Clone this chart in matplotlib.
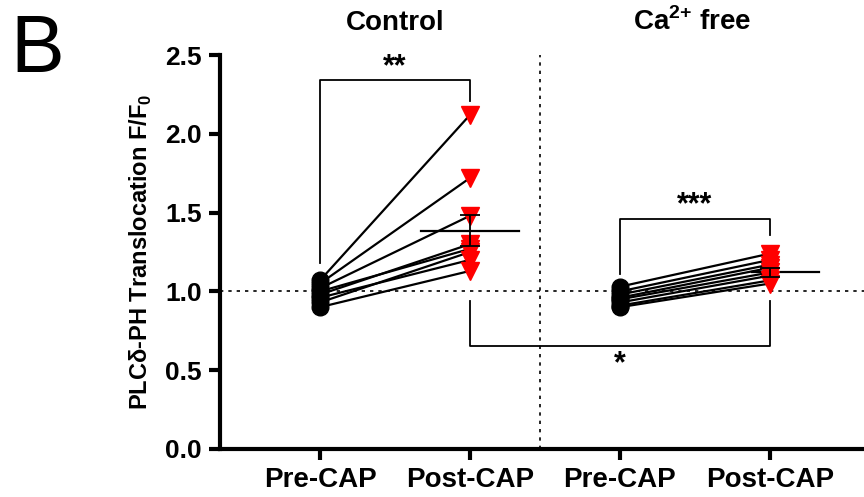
import numpy as np
import matplotlib
matplotlib.use('Agg')
import matplotlib.pyplot as plt

plt.rcParams['font.family'] = ['Liberation Sans', 'DejaVu Sans']
plt.rcParams['mathtext.fontset'] = 'custom'
plt.rcParams['mathtext.rm'] = 'Liberation Sans'
plt.rcParams['mathtext.bf'] = 'Liberation Sans:bold'

# values
tick_labels = ['Pre-CAP', 'Post-CAP', 'Pre-CAP', 'Post-CAP']
ctrl_pre = [1.07, 1.05, 1.02, 0.98, 1.00, 0.93, 0.96, 0.90]
ctrl_post = [2.12, 1.72, 1.48, 1.30, 1.27, 1.25, 1.20, 1.13]
ca_pre = [1.03, 1.00, 0.98, 0.96, 0.95, 0.93, 0.91, 0.90]
ca_post = [1.24, 1.20, 1.17, 1.15, 1.12, 1.10, 1.07, 1.05]
post_mean = [1.385, 1.12]
post_sem = [0.10, 0.03]

fig = plt.figure(figsize=(8.64, 4.97), dpi=100)
ax = fig.add_axes([0.2546, 0.0966, 0.7454, 0.7927])

for pre, post, x0 in [(ctrl_pre, ctrl_post, 1), (ca_pre, ca_post, 3)]:
    for a, b in zip(pre, post):
        ax.plot([x0, x0 + 1], [a, b], color='black', lw=1.6, zorder=3)
    ax.plot([x0] * len(pre), pre, 'o', color='black', ms=12, zorder=4)
    ax.plot([x0 + 1] * len(post), post, 'v', color='red', ms=13, zorder=4)

# mean and sem on the post-CAP columns
for x, m, s, left in zip([2, 4], post_mean, post_sem, [0.33, 0.12]):
    ax.plot([x - left, x + 0.33], [m, m], color='black', lw=1.6, zorder=2)
    ax.errorbar(x, m, yerr=s, color='black', lw=1.3, capsize=7, capthick=1.3, zorder=5)

# reference lines
ax.axhline(1.0, color='black', lw=1.2, ls=(0, (2, 3)), zorder=1)
ax.axvline(2.47, color='black', lw=1.2, ls=(0, (2, 3)), zorder=1)

# significance brackets
bk = dict(color='black', lw=1.3, zorder=1)
star = dict(ha='center', fontsize=22, fontweight='bold')
ax.plot([1, 1, 2, 2], [1.18, 2.34, 2.34, 2.21], **bk)
ax.text(1.5, 2.33, '**', va='bottom', **star)
ax.plot([3, 3, 4, 4], [1.11, 1.46, 1.46, 1.36], **bk)
ax.text(3.5, 1.45, '***', va='bottom', **star)
ax.plot([2, 2, 4, 4], [0.94, 0.655, 0.655, 0.94], **bk)
ax.text(3.0, 0.63, '*', va='top', **star)

ax.set_xlim(0.333, 4.627)
ax.set_ylim(0, 2.5)
ax.set_xticks([1, 2, 3, 4])
ax.set_xticklabels(tick_labels)
ax.set_yticks([0, 0.5, 1.0, 1.5, 2.0, 2.5])
ax.set_yticklabels(['0.0', '0.5', '1.0', '1.5', '2.0', '2.5'])
for lab in ax.get_xticklabels():
    lab.set_fontweight('bold')
    lab.set_fontsize(20)
for lab in ax.get_yticklabels():
    lab.set_fontweight('bold')
    lab.set_fontsize(19)
ax.tick_params(axis='both', width=3, length=8, pad=5)
ax.spines['top'].set_visible(False)
ax.spines['right'].set_visible(False)
ax.spines['left'].set_linewidth(3)
ax.spines['bottom'].set_linewidth(3)
ax.set_ylabel('PLCδ-PH Translocation F/F$_{\\mathbf{0}}$', fontsize=17,
              fontweight='bold', labelpad=8)

ax.text(1.5, 2.62, 'Control', ha='center', va='bottom', fontsize=20, fontweight='bold')
ax.text(3.48, 2.62, 'Ca$^{\\mathbf{2{+}}}$ free', ha='center', va='bottom', fontsize=20,
        fontweight='bold')
fig.text(0.012, 0.855, 'B', fontsize=58)

plt.savefig('out.png', dpi=100)
